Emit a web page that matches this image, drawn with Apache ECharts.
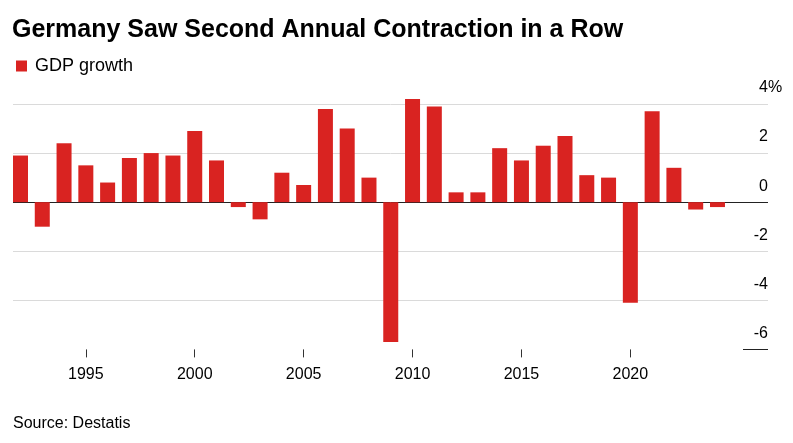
<!DOCTYPE html>
<html>
<head>
<meta charset="utf-8">
<script src="https://cdn.jsdelivr.net/npm/echarts@6/dist/echarts.min.js"></script>
<style>
html,body{margin:0;padding:0;background:#fff;}
#c{width:793px;height:443px;}
</style>
</head>
<body>
<div id="c"></div>
<script>
const years = [1992,1993,1994,1995,1996,1997,1998,1999,2000,2001,2002,2003,2004,2005,2006,2007,2008,2009,2010,2011,2012,2013,2014,2015,2016,2017,2018,2019,2020,2021,2022,2023,2024];
const gdpGrowth = [1.9,-1.0,2.4,1.5,0.8,1.8,2.0,1.9,2.9,1.7,-0.2,-0.7,1.2,0.7,3.8,3.0,1.0,-5.7,4.2,3.9,0.4,0.4,2.2,1.7,2.3,2.7,1.1,1.0,-4.1,3.7,1.4,-0.3,-0.2];
const xTickYears = [1995,2000,2005,2010,2015,2020];
const yTicks = [-6,-4,-2,0,2,4];

const FONT = '"Liberation Sans", Arial, Helvetica, sans-serif';
const chart = echarts.init(document.getElementById('c'), null, {renderer:'canvas'});

const option = {
  backgroundColor: '#fff',
  animation: false,
  textStyle: {fontFamily: FONT},
  title: [
    {text: 'Germany Saw Second Annual Contraction in a Row', left: 12, top: 18, padding: 0,
     textStyle: {fontFamily: FONT, fontSize: 25, fontWeight: 'bold', color: '#000'}},
    {text: 'Source: Destatis', left: 13, top: 416, padding: 0,
     textStyle: {fontFamily: FONT, fontSize: 16, fontWeight: 'normal', color: '#000'}}
  ],
  legend: {
    left: 16, top: 57, padding: 0, icon: 'rect', itemWidth: 11, itemHeight: 11,
    textStyle: {fontFamily: FONT, fontSize: 18, color: '#000', padding: [0,0,0,3]},
    data: ['GDP growth']
  },
  grid: {left: 13, right: 25, top: 104, bottom: 93.6, containLabel: false},
  xAxis: {
    type: 'value',
    min: 1991.656, max: 2026.32,
    splitLine: {show: false},
    axisLine: {show: false, onZero: false},
    axisTick: {show: true, length: 8, customValues: xTickYears, lineStyle: {color: '#333', width: 1}},
    axisLabel: {show: true, customValues: xTickYears, margin: 17, fontSize: 16, color: '#000', fontFamily: FONT,
      formatter: v => String(v)}
  },
  yAxis: {
    type: 'value', position: 'right', min: yTicks[0], max: yTicks[yTicks.length - 1], interval: 2,
    axisLine: {show: false}, axisTick: {show: false},
    splitLine: {show: true, lineStyle: {width: 1, color: ['rgba(0,0,0,0)', '#dadada', '#dadada', '#222', '#dadada', '#dadada']}},
    axisLabel: {
      inside: true, margin: 0, align: 'right', verticalAlign: 'bottom', padding: [0,0,8,0],
      fontSize: 16, color: '#000', fontFamily: FONT,
      formatter: v => String(v)
    }
  },
  series: [{
    name: 'GDP growth', type: 'bar', clip: false, barWidth: 15,
    itemStyle: {color: '#d92321'},
    data: years.map((y, i) => [y, gdpGrowth[i]])
  }]
};
chart.setOption(option);

const yMinPx = chart.convertToPixel({yAxisIndex: 0}, yTicks[0]);
const yMaxPx = chart.convertToPixel({yAxisIndex: 0}, yTicks[yTicks.length - 1]);
chart.setOption({
  graphic: [
    {type: 'line', shape: {x1: 743, y1: Math.round(yMinPx) + 0.5, x2: 768, y2: Math.round(yMinPx) + 0.5},
     style: {stroke: '#222', lineWidth: 1}, silent: true},
    {type: 'text', x: 768, y: yMaxPx - 8, silent: true,
     style: {text: '%', fill: '#000', font: '16px ' + FONT, textAlign: 'left', textVerticalAlign: 'bottom'}}
  ]
});
</script>
</body>
</html>
